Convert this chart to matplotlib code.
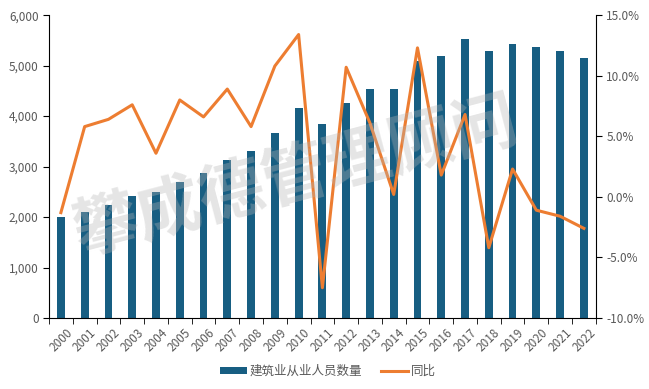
import matplotlib.pyplot as plt
import numpy as np

plt.rcParams['font.family'] = ['Noto Sans CJK SC', 'DejaVu Sans']

years = [str(y) for y in range(2000, 2023)]
workers = [1994, 2110, 2245, 2414, 2500, 2700, 2878, 3133, 3315, 3672, 4160, 3852,
           4268, 4529, 4536, 5094, 5185, 5537, 5300, 5427, 5367, 5283, 5150]
yoy = [-1.3, 5.8, 6.4, 7.6, 3.6, 8.0, 6.6, 8.9, 5.8, 10.8, 13.4, -7.5,
       10.7, 6.1, 0.2, 12.3, 1.8, 6.8, -4.2, 2.3, -1.1, -1.6, -2.6]

BAR_COLOR = "#175E82"
LINE_COLOR = "#ED7D31"
TEXT_COLOR = "#595959"

fig = plt.figure(figsize=(6.49, 3.89), dpi=100)
ax = fig.add_axes([0.0755, 0.1825, 0.8425, 0.7785])
x = np.arange(len(years))

bars = ax.bar(x, workers, width=0.33, color=BAR_COLOR, label="建筑业从业人员数量", zorder=2)
ax.set_ylim(0, 6000)
ax.set_xlim(-0.5, len(years) - 0.5)
ax.set_yticks(range(0, 6001, 1000))
ax.set_yticklabels([f"{v:,}" for v in range(0, 6001, 1000)], color=TEXT_COLOR, fontsize=8.5)
ax.set_xticks(x)
ax.set_xticklabels(years, rotation=45, color=TEXT_COLOR, fontsize=8.5, ha="center")
ax.set_xticks(np.arange(-0.5, len(years)), minor=True)
ax.tick_params(axis="x", which="major", length=0, pad=6)
ax.tick_params(axis="x", which="minor", length=4)
ax.tick_params(axis="y", length=4)
for s in ["top", "right"]:
    ax.spines[s].set_visible(False)

ax2 = ax.twinx()
line, = ax2.plot(x, yoy, color=LINE_COLOR, linewidth=2.2, label="同比", zorder=3)
ax2.set_ylim(-10, 15)
ax2.set_yticks(range(-10, 16, 5))
ax2.set_yticklabels([f"{v:.1f}%" for v in range(-10, 16, 5)], color=TEXT_COLOR, fontsize=8.5)
ax2.tick_params(axis="y", length=4)
for s in ["top", "left", "bottom"]:
    ax2.spines[s].set_visible(False)

# watermark
fig.text(0.455, 0.545, "攀成德管理顾问", fontsize=47, fontweight="bold", color="#b5b5b5",
         alpha=0.35, rotation=14.7, ha="center", va="center", zorder=10)

fig.legend([bars, line], ["建筑业从业人员数量", "同比"], loc="center", bbox_to_anchor=(0.505, 0.046),
           ncol=2, frameon=False, fontsize=9, labelcolor=TEXT_COLOR, handlelength=2.2,
           handleheight=0.5, handletextpad=0.2, columnspacing=1.5)

fig.savefig("out.png", dpi=100)
